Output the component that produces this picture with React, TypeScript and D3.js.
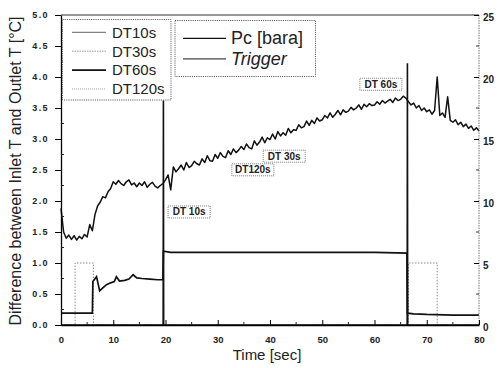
import React, { useEffect, useRef } from 'react'
import * as d3 from 'd3'

// DT60s, sampled every 0.5 s from 0 to 80 s (left axis, degC)
const dtStep = 0.5
const dt60 = [
  1.88, 1.50, 1.40, 1.45, 1.38, 1.44, 1.37, 1.43, 1.39, 1.46,
  1.42, 1.62, 1.52, 1.78, 1.92, 1.98, 2.07, 2.05, 2.15, 2.20,
  2.31, 2.27, 2.33, 2.28, 2.25, 2.31, 2.34, 2.26, 2.29, 2.23,
  2.29, 2.25, 2.31, 2.22, 2.27, 2.30, 2.24, 2.21, 2.25, 2.28,
  2.34, 2.42, 2.18, 2.55, 2.47, 2.52, 2.58, 2.50, 2.62, 2.54,
  2.57, 2.64, 2.60, 2.58, 2.68, 2.62, 2.73, 2.65, 2.64, 2.75,
  2.69, 2.78, 2.72, 2.70, 2.81, 2.75, 2.84, 2.78, 2.82, 2.88,
  2.83, 2.92, 2.86, 2.84, 2.97, 2.90, 2.95, 3.03, 2.94, 3.02,
  2.99, 3.08, 3.00, 3.12, 3.05, 3.10, 3.06, 3.17, 3.10, 3.15,
  3.14, 3.23, 3.18, 3.20, 3.29, 3.22, 3.30, 3.25, 3.34, 3.29,
  3.31, 3.38, 3.34, 3.42, 3.35, 3.40, 3.46, 3.39, 3.47, 3.43,
  3.45, 3.51, 3.47, 3.50, 3.55, 3.48, 3.56, 3.52, 3.57, 3.54,
  3.55, 3.60, 3.56, 3.62, 3.58, 3.61, 3.64, 3.59, 3.66, 3.62,
  3.64, 3.69, 3.66, 3.60, 3.55, 3.58, 3.50, 3.54, 3.46, 3.50,
  3.44, 3.47, 3.40, 3.46, 4.00, 3.38, 3.42, 3.35, 3.68, 3.30,
  3.27, 3.31, 3.23, 3.27, 3.20, 3.24, 3.17, 3.21, 3.14, 3.18,
  3.13,
]

// DT30s window (dotted square pulses, left axis)
const pulseTime = [0, 2.7, 2.7, 6.2, 6.2, 66.5, 66.5, 72, 72, 80]
const pulseVal = [0, 0, 1, 1, 0, 0, 1, 1, 0, 0]

// Pc [bara] (right axis)
const pcTime = [0, 6.0, 6.1, 6.8, 7.4, 8.0, 8.7, 9.5, 10.2, 10.6,
  11.2, 12.2, 13.0, 13.8, 14.5, 15.5, 17.0, 18.5, 19.5, 19.6,
  21, 30, 40, 50, 60, 66.2, 66.3, 67.5, 70, 75, 80]
const pcBar = [0.95, 0.95, 3.5, 3.9, 2.75, 3.0, 3.25, 3.4, 3.5, 3.9,
  3.55, 3.6, 3.7, 4.05, 3.8, 3.75, 3.7, 3.65, 3.65, 5.95,
  5.85, 5.85, 5.85, 5.85, 5.85, 5.8, 0.95, 0.9, 0.85, 0.8, 0.8]

// Trigger (right axis)
const trigTime = [0, 19.55, 19.6, 19.65, 66.25, 66.3, 66.35, 80]
const trigVal = [0, 0, 18.1, 0, 0, 21.1, 0, 0]

const xTicks = [0, 10, 20, 30, 40, 50, 60, 70, 80]
const leftTicks = [0, 0.5, 1, 1.5, 2, 2.5, 3, 3.5, 4, 4.5, 5]
const rightTicks = [0, 5, 10, 15, 20, 25]

const dtLegend = ['DT10s', 'DT30s', 'DT60s', 'DT120s']
const pcLegend = ['Pc [bara]', 'Trigger']

// marker boxes: label, time and value of the box's upper-left corner
const notes = [
  { label: 'DT 10s', t: 20.5, v: 1.92 },
  { label: 'DT120s', t: 32.7, v: 2.6 },
  { label: 'DT 30s', t: 38.7, v: 2.82 },
  { label: 'DT 60s', t: 57.2, v: 3.98 },
]

const FONT = "'Liberation Sans', Arial, sans-serif"

export default function App() {
  const ref = useRef<SVGSVGElement>(null)

  useEffect(() => {
    const W = 499, H = 368
    const m = { t: 15, r: 20, b: 43, l: 61 }
    const svg = d3.select(ref.current)
    svg.selectAll('*').remove()

    const x = d3.scaleLinear().domain([0, 80]).range([m.l, W - m.r])
    const yL = d3.scaleLinear().domain([0, 5]).range([H - m.b, m.t])
    const yR = d3.scaleLinear().domain([0, 25]).range([H - m.b, m.t])

    const lineL = d3.line<[number, number]>().x(d => x(d[0])).y(d => yL(d[1]))
    const lineR = d3.line<[number, number]>().x(d => x(d[0])).y(d => yR(d[1]))

    const plot = svg.append('g').attr('fill', 'none')

    plot.append('path')
      .attr('d', lineL(pulseTime.map((t, i) => [t, pulseVal[i]] as [number, number])))
      .attr('stroke', '#8c8c8c').attr('stroke-width', 1).attr('stroke-dasharray', '1.5 1.5')

    plot.append('path')
      .attr('d', lineR(pcTime.map((t, i) => [t, pcBar[i]] as [number, number])))
      .attr('stroke', '#111').attr('stroke-width', 1.7)

    plot.append('path')
      .attr('d', lineR(trigTime.map((t, i) => [t, trigVal[i]] as [number, number])))
      .attr('stroke', '#111').attr('stroke-width', 1.6)

    plot.append('path')
      .attr('d', lineL(dt60.map((v, i) => [i * dtStep, v] as [number, number])))
      .attr('stroke', '#111').attr('stroke-width', 1.5).attr('stroke-linejoin', 'round')

    // frame
    svg.append('line').attr('x1', m.l).attr('x2', W - m.r).attr('y1', m.t).attr('y2', m.t)
      .attr('stroke', '#333').attr('stroke-width', 1.2)
    svg.append('line').attr('x1', W - m.r).attr('x2', W - m.r).attr('y1', m.t).attr('y2', H - m.b)
      .attr('stroke', '#777').attr('stroke-width', 1).attr('stroke-dasharray', '1.5 1')

    // left axis
    const gl = svg.append('g').attr('transform', `translate(${m.l},0)`)
      .call(d3.axisLeft(yL).tickValues(leftTicks).tickSize(6).tickSizeOuter(0).tickPadding(6)
        .tickFormat(d3.format('.1f')))
    gl.selectAll('text').attr('font-family', FONT).attr('font-size', 9).attr('font-weight', 'bold')
      .attr('letter-spacing', 1.4).attr('fill', '#222')
    gl.select('.domain').attr('stroke-width', 1.3)
    gl.selectAll('.minor').data(d3.range(0.25, 5, 0.5)).join('line').attr('class', 'minor')
      .attr('x1', 0).attr('x2', 3).attr('y1', d => yL(d)).attr('y2', d => yL(d)).attr('stroke', '#222')

    // bottom axis
    const gb = svg.append('g').attr('transform', `translate(0,${H - m.b})`)
      .call(d3.axisBottom(x).tickValues(xTicks).tickSize(-5).tickSizeOuter(0).tickPadding(11)
        .tickFormat(d3.format('d')))
    gb.selectAll('text').attr('font-family', FONT).attr('font-size', 9.5).attr('font-weight', 'bold')
      .attr('fill', '#222')
    gb.select('.domain').attr('stroke-width', 1.3)
    gb.selectAll('.minor').data(d3.range(5, 80, 10)).join('line').attr('class', 'minor')
      .attr('x1', d => x(d)).attr('x2', d => x(d)).attr('y1', 0).attr('y2', -3).attr('stroke', '#222')

    // right axis
    const gr = svg.append('g').attr('transform', `translate(${W - m.r},0)`)
      .call(d3.axisRight(yR).tickValues(rightTicks).tickSize(-5).tickSizeOuter(0).tickPadding(4))
    gr.select('.domain').remove()
    gr.selectAll('text').attr('font-family', FONT).attr('font-size', 10).attr('font-weight', 'bold')
      .attr('fill', '#222').attr('dy', '0.55em')
    gr.selectAll('.minor').data(d3.range(2.5, 25, 5)).join('line').attr('class', 'minor')
      .attr('x1', 0).attr('x2', -3).attr('y1', d => yR(d)).attr('y2', d => yR(d)).attr('stroke', '#333')

    // axis titles
    svg.append('text').attr('transform', `translate(21,${(m.t + H - m.b) / 2 + 1}) rotate(-90)`)
      .attr('text-anchor', 'middle').attr('font-family', FONT).attr('font-size', 16).attr('fill', '#222')
      .text('Difference between Inlet T and Outlet T [°C]')
    svg.append('text').attr('x', 267).attr('y', 360).attr('text-anchor', 'middle')
      .attr('font-family', FONT).attr('font-size', 15).attr('fill', '#222').text('Time [sec]')

    // marker boxes
    const nb = svg.selectAll('.note').data(notes).join('g').attr('class', 'note')
      .attr('transform', d => `translate(${x(d.t)},${yL(d.v)})`)
    nb.append('rect').attr('width', 42).attr('height', 12).attr('fill', 'white')
      .attr('stroke', '#666').attr('stroke-width', 0.9).attr('stroke-dasharray', '1 1')
    nb.append('text').attr('x', 21).attr('y', 9.5).attr('text-anchor', 'middle')
      .attr('font-family', FONT).attr('font-size', 10).attr('font-weight', 'bold').attr('fill', '#222')
      .text(d => d.label)

    // DT legend
    const styles = [
      { c: '#666', w: 1, dash: null },
      { c: '#999', w: 1, dash: '1.5 1' },
      { c: '#111', w: 1.6, dash: null },
      { c: '#aaa', w: 1, dash: '1 1' },
    ]
    const l1 = svg.append('g')
    l1.append('rect').attr('x', 62.5).attr('y', 19.5).attr('width', 108.5).attr('height', 80.5)
      .attr('fill', 'white').attr('stroke', '#666').attr('stroke-dasharray', '1.2 1')
    dtLegend.forEach((name, i) => {
      const yy = 32.3 + i * 18.9
      l1.append('line').attr('x1', 72).attr('x2', 106).attr('y1', yy).attr('y2', yy)
        .attr('stroke', styles[i].c).attr('stroke-width', styles[i].w)
        .attr('stroke-dasharray', styles[i].dash)
      l1.append('text').attr('x', 112).attr('y', yy + 5.3).attr('font-family', FONT)
        .attr('font-size', 15).attr('fill', '#222').text(name)
    })

    // Pc / Trigger legend
    const l2 = svg.append('g')
    l2.append('rect').attr('x', 175).attr('y', 20.5).attr('width', 140.5).attr('height', 56)
      .attr('fill', 'white').attr('stroke', '#666').attr('stroke-dasharray', '1.2 1')
    pcLegend.forEach((name, i) => {
      const yy = 38.3 + i * 20.5
      l2.append('line').attr('x1', 183).attr('x2', 226).attr('y1', yy).attr('y2', yy)
        .attr('stroke', i === 0 ? '#111' : '#444').attr('stroke-width', 1.2)
      l2.append('text').attr('x', 231).attr('y', yy + 6).attr('font-family', FONT)
        .attr('font-size', 18).attr('font-style', i === 1 ? 'italic' : 'normal')
        .attr('fill', '#222').text(name)
    })
  }, [])

  return (
    <svg ref={ref} width={499} height={368}
      style={{ position: 'absolute', left: 0, top: 0, background: '#fff' }} />
  )
}
